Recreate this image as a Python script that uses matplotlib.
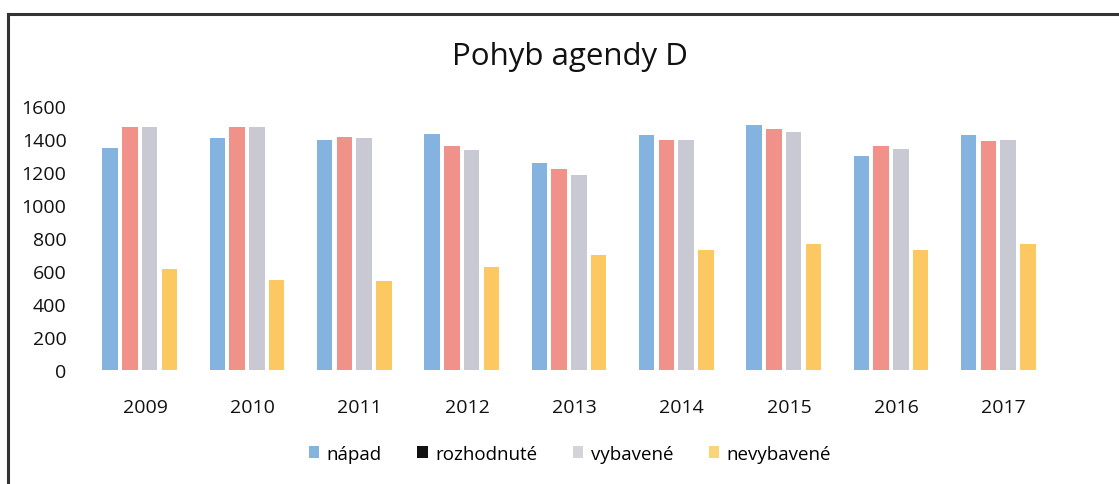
import matplotlib
matplotlib.use("Agg")
import matplotlib.pyplot as plt
from matplotlib.patches import Patch
from matplotlib.lines import Line2D
import numpy as np

plt.rcParams['font.family'] = ['Open Sans', 'DejaVu Sans']

years = ["2009", "2010", "2011", "2012", "2013", "2014", "2015", "2016", "2017"]
napad = [1345, 1405, 1395, 1430, 1255, 1425, 1485, 1300, 1425]
rozhodnute = [1475, 1475, 1410, 1355, 1220, 1395, 1460, 1355, 1390]
vybavene = [1475, 1475, 1405, 1335, 1180, 1395, 1445, 1340, 1395]
nevybavene = [610, 545, 540, 625, 695, 730, 765, 725, 765]
series_names = ["nápad", "rozhodnuté", "vybavené", "nevybavené"]
colors = ["#85B3E0", "#F0928A", "#C9C9D3", "#FBC862"]
legend_colors = ["#85B3E0", "#111111", "#D4D4D8", "#FBD478"]
yticks = [0, 200, 400, 600, 800, 1000, 1200, 1400, 1600]

W, H = 1119, 485
fig = plt.figure(figsize=(W / 100, H / 100), dpi=100)
ax = fig.add_axes([86 / W, 1 - 371 / H, (1052 - 86) / W, (371 - 107) / H])

x = np.arange(len(years))
step = 0.184
width = 0.145
data = [napad, rozhodnute, vybavene, nevybavene]
for i, (vals, c) in enumerate(zip(data, colors)):
    ax.bar(x + (i - 1.5) * step, vals, width=width, color=c, zorder=2)

ax.set_xlim(-0.5, len(years) - 0.5)
ax.set_ylim(0, 1600)
ax.set_yticks(yticks)
ax.set_yticklabels([str(v) for v in yticks])
ax.set_xticks(x + 0.05)
ax.set_xticklabels(years)
for s in ax.spines.values():
    s.set_visible(False)
ax.tick_params(axis='both', length=0, labelsize=14, colors="#111111")
ax.tick_params(axis='y', pad=14)
ax.tick_params(axis='x', pad=20)

fig.text(570 / W, 1 - 57 / H, "Pohyb agendy D", ha='center', va='center',
         fontsize=22.5, color="#111111")

handles = [Patch(facecolor=c, edgecolor='none') for c in legend_colors]
fig.legend(handles, series_names, loc='center', bbox_to_anchor=(570 / W, 1 - 455 / H),
           ncol=4, frameon=False, fontsize=13.5, handlelength=0.55, handleheight=0.6,
           handletextpad=0.4, columnspacing=1.9)

# outer frame (left and top)
fig.add_artist(Line2D([8 / W, 8 / W], [0, 1 - 15 / H], transform=fig.transFigure,
                      color="#333333", linewidth=2.2))
fig.add_artist(Line2D([8 / W, 1], [1 - 15 / H, 1 - 15 / H], transform=fig.transFigure,
                      color="#333333", linewidth=2.2))

fig.savefig("out.png", dpi=100)
